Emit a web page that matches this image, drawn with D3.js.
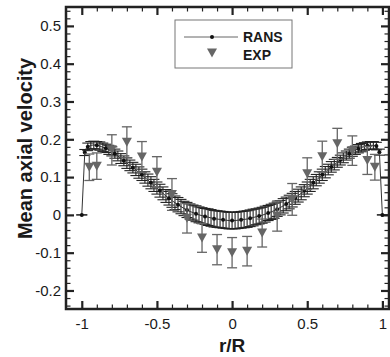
<!DOCTYPE html>
<html>
<head>
<meta charset="utf-8">
<script src="https://cdn.jsdelivr.net/npm/d3@7"></script>
<style>
  body { margin: 0; background: #fff; }
  svg text { font-family: Arial, "Liberation Sans", Helvetica, sans-serif; fill: #1a1a1a; }
</style>
</head>
<body>
<div class="canvas"></div>
<script>
// RANS profile (r/R every 0.02)
const ransR = [
  -1, -0.98, -0.96, -0.94, -0.92, -0.9, -0.88, -0.86, -0.84, -0.82,
  -0.8, -0.78, -0.76, -0.74, -0.72, -0.7, -0.68, -0.66, -0.64, -0.62,
  -0.6, -0.58, -0.56, -0.54, -0.52, -0.5, -0.48, -0.46, -0.44, -0.42,
  -0.4, -0.38, -0.36, -0.34, -0.32, -0.3, -0.28, -0.26, -0.24, -0.22,
  -0.2, -0.18, -0.16, -0.14, -0.12, -0.1, -0.08, -0.06, -0.04, -0.02,
  0, 0.02, 0.04, 0.06, 0.08, 0.1, 0.12, 0.14, 0.16, 0.18,
  0.2, 0.22, 0.24, 0.26, 0.28, 0.3, 0.32, 0.34, 0.36, 0.38,
  0.4, 0.42, 0.44, 0.46, 0.48, 0.5, 0.52, 0.54, 0.56, 0.58,
  0.6, 0.62, 0.64, 0.66, 0.68, 0.7, 0.72, 0.74, 0.76, 0.78,
  0.8, 0.82, 0.84, 0.86, 0.88, 0.9, 0.92, 0.94, 0.96, 0.98, 1
];
const ransU = [
  0, 0.165, 0.18, 0.184, 0.185, 0.184, 0.182, 0.179, 0.176, 0.172,
  0.168, 0.162, 0.156, 0.149, 0.143, 0.137, 0.131, 0.125, 0.119, 0.112,
  0.106, 0.099, 0.092, 0.085, 0.078, 0.071, 0.064, 0.057, 0.05, 0.044,
  0.038, 0.032, 0.027, 0.022, 0.017, 0.013, 0.009, 0.006, 0.003, 0,
  -0.002, -0.004, -0.006, -0.008, -0.01, -0.011, -0.012, -0.013, -0.014, -0.015,
  -0.015, -0.015, -0.014, -0.013, -0.012, -0.011, -0.009, -0.007, -0.005, -0.003,
  -0.001, 0.002, 0.005, 0.008, 0.011, 0.015, 0.019, 0.024, 0.029, 0.034,
  0.039, 0.045, 0.051, 0.057, 0.064, 0.071, 0.078, 0.085, 0.092, 0.099,
  0.106, 0.113, 0.12, 0.127, 0.133, 0.139, 0.145, 0.151, 0.157, 0.162,
  0.167, 0.171, 0.175, 0.178, 0.181, 0.183, 0.184, 0.184, 0.182, 0.166, 0
];
const ransErr = [
  0, 0.008, 0.01, 0.01, 0.01, 0.01, 0.011, 0.011, 0.011, 0.012,
  0.012, 0.012, 0.013, 0.013, 0.013, 0.014, 0.014, 0.014, 0.015, 0.015,
  0.015, 0.015, 0.016, 0.016, 0.016, 0.016, 0.017, 0.017, 0.017, 0.018,
  0.018, 0.018, 0.019, 0.019, 0.019, 0.02, 0.02, 0.02, 0.021, 0.021,
  0.021, 0.021, 0.022, 0.022, 0.022, 0.022, 0.022, 0.022, 0.022, 0.022,
  0.022, 0.022, 0.022, 0.022, 0.022, 0.022, 0.022, 0.022, 0.021, 0.021,
  0.021, 0.021, 0.02, 0.02, 0.02, 0.019, 0.019, 0.019, 0.018, 0.018,
  0.018, 0.017, 0.017, 0.017, 0.016, 0.016, 0.016, 0.016, 0.015, 0.015,
  0.015, 0.015, 0.014, 0.014, 0.014, 0.013, 0.013, 0.013, 0.012, 0.012,
  0.012, 0.011, 0.011, 0.011, 0.01, 0.01, 0.01, 0.01, 0.01, 0.008, 0
];

// experiment
const expR = [-0.95, -0.9, -0.8, -0.7, -0.6, -0.5, -0.4, -0.3, -0.2, -0.1, 0,
  0.1, 0.2, 0.3, 0.4, 0.5, 0.6, 0.7, 0.8, 0.9, 0.95];
const expU = [0.126, 0.129, 0.172, 0.192, 0.153, 0.113, 0.054, -0.009, -0.061, -0.092, -0.1,
  -0.096, -0.048, -0.003, 0.041, 0.109, 0.154, 0.188, 0.17, 0.144, 0.126];
const expErr = [0.035, 0.035, 0.04, 0.041, 0.041, 0.041, 0.042, 0.039, 0.038, 0.04, 0.04,
  0.039, 0.037, 0.04, 0.042, 0.042, 0.041, 0.041, 0.039, 0.037, 0.034];

const xTicks = [-1, -0.5, 0, 0.5, 1];
const xTickLabels = ["-1", "-0.5", "0", "0.5", "1"];
const yTicks = [-0.2, -0.1, 0, 0.1, 0.2, 0.3, 0.4, 0.5];
const yTickLabels = ["-0.2", "-0.1", "0", "0.1", "0.2", "0.3", "0.4", "0.5"];
const seriesNames = ["RANS", "EXP"];

const margin = { top: 7, right: 1, bottom: 48, left: 66 };
const graphWidth = 390 - margin.left - margin.right;
const graphHeight = 357 - margin.top - margin.bottom;

const svg = d3
  .select(".canvas")
  .append("svg")
  .attr("width", 390)
  .attr("height", 357);

const graph = svg
  .append("g")
  .attr("transform", `translate(${margin.left}, ${margin.top})`);

// scales
const x = d3.scaleLinear().domain([-1.105, 1.044]).range([0, graphWidth]);
const y = d3.scaleLinear().domain([-0.249, 0.55]).range([graphHeight, 0]);

const dark = "#222";
const grey = "#666";

// minor ticks
const xMinor = d3.range(-10, 11).map((d) => d / 10).filter((d) => !xTicks.includes(d));
const yMinor = d3.range(-12, 28).map((d) => d / 50).filter((d) => Math.round(d * 50) % 5 !== 0);

const styleAxis = (g, w) => {
  g.select(".domain").remove();
  g.selectAll(".tick line").attr("stroke", dark).attr("stroke-width", w);
  g.selectAll("text").attr("font-size", 15).attr("fill", "#1a1a1a");
};

const axes = [
  [d3.axisBottom, `translate(0,${graphHeight})`, x],
  [d3.axisTop, "translate(0,0)", x],
  [d3.axisLeft, "translate(0,0)", y],
  [d3.axisRight, `translate(${graphWidth},0)`, y],
];

axes.forEach(([fn, tr, sc]) => {
  const minor = fn(sc)
    .tickValues(sc === x ? xMinor : yMinor)
    .tickFormat("")
    .tickSizeInner(-4.5)
    .tickSizeOuter(0);
  graph.append("g").attr("transform", tr).call(minor).call((g) => styleAxis(g, 1.2));
});

// major ticks + labels
graph
  .append("g")
  .attr("transform", `translate(0,${graphHeight})`)
  .call(
    d3.axisBottom(x).tickValues(xTicks).tickFormat((d, i) => xTickLabels[i])
      .tickSizeInner(-8).tickSizeOuter(0).tickPadding(9)
  )
  .call((g) => styleAxis(g, 2.2));

graph
  .append("g")
  .call(
    d3.axisLeft(y).tickValues(yTicks).tickFormat((d, i) => yTickLabels[i])
      .tickSizeInner(-8).tickSizeOuter(0).tickPadding(5)
  )
  .call((g) => styleAxis(g, 2.2));

graph
  .append("g")
  .call(d3.axisTop(x).tickValues(xTicks).tickFormat("").tickSizeInner(-8).tickSizeOuter(0))
  .call((g) => styleAxis(g, 2.2));

graph
  .append("g")
  .attr("transform", `translate(${graphWidth},0)`)
  .call(d3.axisRight(y).tickValues(yTicks).tickFormat("").tickSizeInner(-8).tickSizeOuter(0))
  .call((g) => styleAxis(g, 2.2));

// frame
graph
  .append("rect")
  .attr("width", graphWidth)
  .attr("height", graphHeight)
  .attr("fill", "none")
  .attr("stroke", dark)
  .attr("stroke-width", 2.5);

// RANS
const rans = ransR.map((r, i) => ({ r, u: ransU[i], e: ransErr[i], i }));

const ransBars = graph.append("g").attr("stroke", dark).attr("stroke-width", 1.1);
rans.forEach((d) => {
  const cx = x(d.r);
  const top = y(d.u + d.e);
  const bot = y(d.u - d.e);
  ransBars.append("line").attr("x1", cx).attr("x2", cx).attr("y1", top).attr("y2", bot);
  ransBars.append("line").attr("x1", cx - 5.5).attr("x2", cx + 5.5).attr("y1", top).attr("y2", top);
  ransBars.append("line").attr("x1", cx - 5.5).attr("x2", cx + 5.5).attr("y1", bot).attr("y2", bot);
});

const line = d3
  .line()
  .x((d) => x(d.r))
  .y((d) => y(d.u));

graph
  .append("path")
  .datum(rans)
  .attr("fill", "none")
  .attr("stroke", "#333")
  .attr("stroke-width", 1)
  .attr("d", line);

graph
  .selectAll("circle.rans")
  .data(rans.filter((d) => (d.i - 50) % 3 === 0 || d.i <= 1 || d.i >= 99))
  .enter()
  .append("circle")
  .attr("class", "rans")
  .attr("cx", (d) => x(d.r))
  .attr("cy", (d) => y(d.u))
  .attr("r", 2)
  .attr("fill", "#111");

// EXP
const exp = expR.map((r, i) => ({ r, u: expU[i], e: expErr[i] }));
const expBars = graph.append("g").attr("stroke", grey).attr("stroke-width", 1.3);
exp.forEach((d) => {
  const cx = x(d.r);
  const top = y(d.u + d.e);
  const bot = y(d.u - d.e);
  expBars.append("line").attr("x1", cx).attr("x2", cx).attr("y1", top).attr("y2", bot);
  expBars.append("line").attr("x1", cx - 5).attr("x2", cx + 5).attr("y1", top).attr("y2", top);
  expBars.append("line").attr("x1", cx - 5).attr("x2", cx + 5).attr("y1", bot).attr("y2", bot);
});

const tri = "M-5,-4.5L5,-4.5L0,4.5Z";
graph
  .selectAll("path.exp")
  .data(exp)
  .enter()
  .append("path")
  .attr("class", "exp")
  .attr("d", tri)
  .attr("transform", (d) => `translate(${x(d.r)},${y(d.u)})`)
  .attr("fill", grey);

// legend
const legend = svg.append("g").attr("transform", "translate(175,20)");
legend
  .append("rect")
  .attr("width", 117)
  .attr("height", 48)
  .attr("fill", "#fff")
  .attr("stroke", "#777")
  .attr("stroke-width", 1);
legend.append("line").attr("x1", 9).attr("x2", 63).attr("y1", 17).attr("y2", 17)
  .attr("stroke", grey).attr("stroke-width", 1);
legend.append("circle").attr("cx", 37).attr("cy", 17).attr("r", 2).attr("fill", "#111");
legend.append("path").attr("d", tri).attr("transform", "translate(37,33)").attr("fill", grey);
legend
  .selectAll("text")
  .data(seriesNames)
  .enter()
  .append("text")
  .attr("x", 68)
  .attr("y", (d, i) => 22 + i * 18)
  .attr("font-size", 14)
  .attr("font-weight", "bold")
  .text((d) => d);

// axis titles
svg
  .append("text")
  .attr("x", margin.left + x(0))
  .attr("y", 352)
  .attr("text-anchor", "middle")
  .attr("font-size", 19)
  .attr("font-weight", "bold")
  .text("r/R");

svg
  .append("text")
  .attr("transform", "translate(32,148.5) rotate(-90)")
  .attr("text-anchor", "middle")
  .attr("font-size", 20)
  .attr("font-weight", "bold")
  .text("Mean axial velocity");
</script>
</body>
</html>
